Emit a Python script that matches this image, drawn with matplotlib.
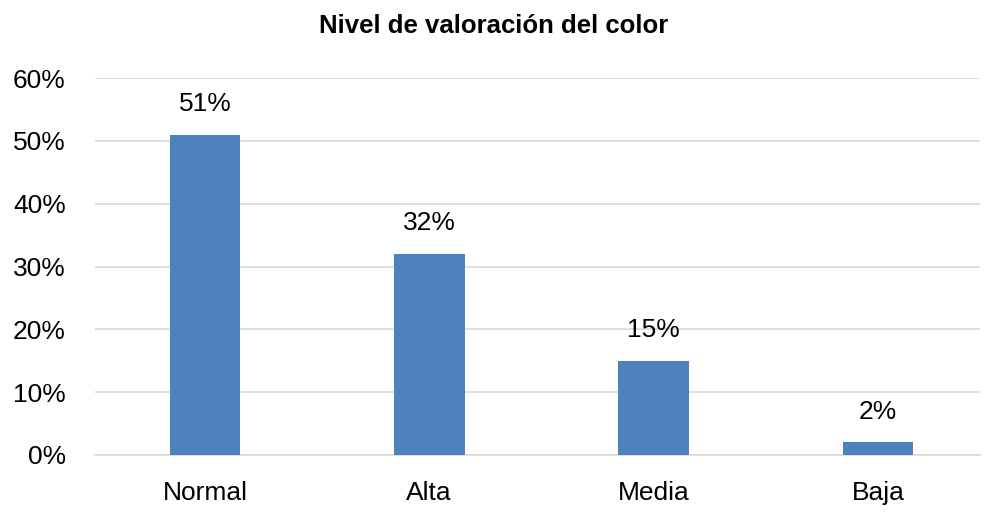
import matplotlib
matplotlib.use("Agg")
import matplotlib.pyplot as plt
from matplotlib import font_manager

categories = ["Normal", "Alta", "Media", "Baja"]
values = [51, 32, 15, 2]
yticks = [0, 10, 20, 30, 40, 50, 60]
title = "Nivel de valoración del color"

names = {f.name for f in font_manager.fontManager.ttflist}
fam = ["Liberation Sans Narrow", "Liberation Sans", "DejaVu Sans"]
fam = [f for f in fam if f in names] or ["DejaVu Sans"]
plt.rcParams['font.family'] = fam

fig = plt.figure(figsize=(9.87, 5.12), dpi=100)
ax = fig.add_axes([95/987, (512-455)/512, (980-95)/987, (455-78)/512])
x = range(len(categories))
ax.bar(x, values, width=0.315, color="#4F81BD", zorder=3)
for xi, v in zip(x, values):
    ax.text(xi, v + 3.0, f"{v}%", ha="center", va="bottom", fontsize=19, color="#000000")
ax.set_ylim(0, 60)
ax.set_xlim(-0.49, 3.455)
ax.set_yticks(yticks)
ax.set_yticklabels([f"{t}%" for t in yticks], fontsize=19)
ax.set_xticks(list(x))
ax.set_xticklabels(categories, fontsize=19)
ax.yaxis.grid(True, color="#D9D9D9", linewidth=1.2, zorder=0)
for s in ["top", "right", "left"]:
    ax.spines[s].set_visible(False)
ax.spines["bottom"].set_color("#D9D9D9")
ax.spines["bottom"].set_linewidth(1.2)
ax.tick_params(axis="y", length=0, pad=21)
ax.tick_params(axis="x", length=0, pad=19)
fig.text(0.5, 1 - 26/512, title, ha="center", va="center", fontsize=18.5, fontweight="bold")
fig.savefig("out.png", dpi=100)
